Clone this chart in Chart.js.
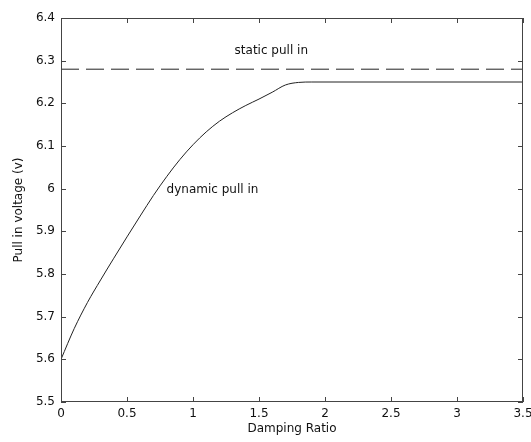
<!DOCTYPE html>
<html>
<head>
<meta charset="utf-8">
<script src="https://cdn.jsdelivr.net/npm/chart.js@4.4.0/dist/chart.umd.min.js"></script>
<style>
  html, body { margin: 0; padding: 0; background: #fff; }
  #wrap { width: 531px; height: 442px; }
</style>
</head>
<body>
<div id="wrap"><canvas id="pullChart"></canvas></div>
<script>
// damping ratio vs pull in voltage
const dampingRatio = [0, 0.1, 0.2, 0.3, 0.4, 0.5, 0.6, 0.7, 0.8, 0.9, 1.0, 1.1, 1.2,
  1.3, 1.4, 1.5, 1.6, 1.7, 1.8, 1.9, 2.0, 2.5, 3.0, 3.5];
const dynamicPullIn = [5.6, 5.672, 5.733, 5.786, 5.837, 5.887, 5.936, 5.984, 6.028, 6.068,
  6.103, 6.133, 6.158, 6.178, 6.195, 6.21, 6.226, 6.243, 6.249, 6.25, 6.25, 6.25, 6.25, 6.25];

const staticX = [0, 3.5];
const staticPullIn = [6.28, 6.28];

const labelStatic = "static pull in";
const labelDynamic = "dynamic pull in";

const FONT = "'DejaVu Sans', Arial, sans-serif";

// box + inward ticks, matlab style
const boxPlugin = {
  id: "box",
  afterDraw(chart) {
    const { ctx, chartArea: a, scales } = chart;
    ctx.save();
    ctx.strokeStyle = "#444";
    ctx.lineWidth = 1;
    ctx.strokeRect(a.left + 0.5, a.top + 0.5, a.right - a.left - 1, a.bottom - a.top - 1);
    ctx.beginPath();
    scales.x.ticks.forEach(t => {
      const px = Math.round(scales.x.getPixelForValue(t.value)) + 0.5;
      ctx.moveTo(px, a.bottom); ctx.lineTo(px, a.bottom - 5);
      ctx.moveTo(px, a.top); ctx.lineTo(px, a.top + 5);
    });
    scales.y.ticks.forEach(t => {
      const py = Math.round(scales.y.getPixelForValue(t.value)) + 0.5;
      ctx.moveTo(a.left, py); ctx.lineTo(a.left + 5, py);
      ctx.moveTo(a.right, py); ctx.lineTo(a.right - 5, py);
    });
    ctx.stroke();

    // text labels
    ctx.fillStyle = "#111";
    ctx.font = "12px " + FONT;
    ctx.textBaseline = "middle";
    ctx.textAlign = "left";
    ctx.fillText(labelStatic, scales.x.getPixelForValue(1.315), scales.y.getPixelForValue(6.322));
    ctx.fillText(labelDynamic, scales.x.getPixelForValue(0.80), scales.y.getPixelForValue(5.998));
    ctx.restore();
  }
};

const fmt = v => String(+(+v).toFixed(1));

const config = {
  type: "line",
  data: {
    datasets: [
      {
        label: "dynamic",
        data: dampingRatio.map((x, i) => ({ x: x, y: dynamicPullIn[i] })),
        borderColor: "#222",
        borderWidth: 1,
        pointRadius: 0,
        cubicInterpolationMode: "monotone",
        fill: false,
      },
      {
        label: "static",
        data: staticX.map((x, i) => ({ x: x, y: staticPullIn[i] })),
        borderColor: "#222",
        borderWidth: 1,
        borderDash: [18, 7],
        pointRadius: 0,
        fill: false,
      },
    ],
  },
  options: {
    responsive: true,
    maintainAspectRatio: false,
    animation: false,
    layout: { padding: { top: 18, right: 8, left: 0, bottom: 0 } },
    plugins: { legend: { display: false }, tooltip: { enabled: false } },
    scales: {
      x: {
        type: "linear",
        min: 0,
        max: 3.5,
        ticks: { stepSize: 0.5, color: "#111", font: { family: FONT, size: 12 }, padding: 5, callback: fmt, maxRotation: 0 },
        grid: { display: false, drawTicks: false },
        border: { display: false },
        title: { display: true, text: "Damping Ratio", color: "#111", font: { family: FONT, size: 12 }, padding: { top: 0, bottom: 6 } },
        afterFit(s) { s.height = 40; s.paddingLeft = 0; s.paddingRight = 0; },
      },
      y: {
        type: "linear",
        min: 5.5,
        max: 6.4,
        ticks: { stepSize: 0.1, color: "#111", font: { family: FONT, size: 12 }, padding: 6, callback: fmt },
        grid: { display: false, drawTicks: false },
        border: { display: false },
        title: { display: true, text: "Pull in voltage (v)", color: "#111", font: { family: FONT, size: 12 }, padding: { top: 12, bottom: 0 } },
        afterFit(s) { s.width = 61; },
      },
    },
  },
  plugins: [boxPlugin],
};

const pullChart = new Chart(document.getElementById("pullChart"), config);
</script>
</body>
</html>
